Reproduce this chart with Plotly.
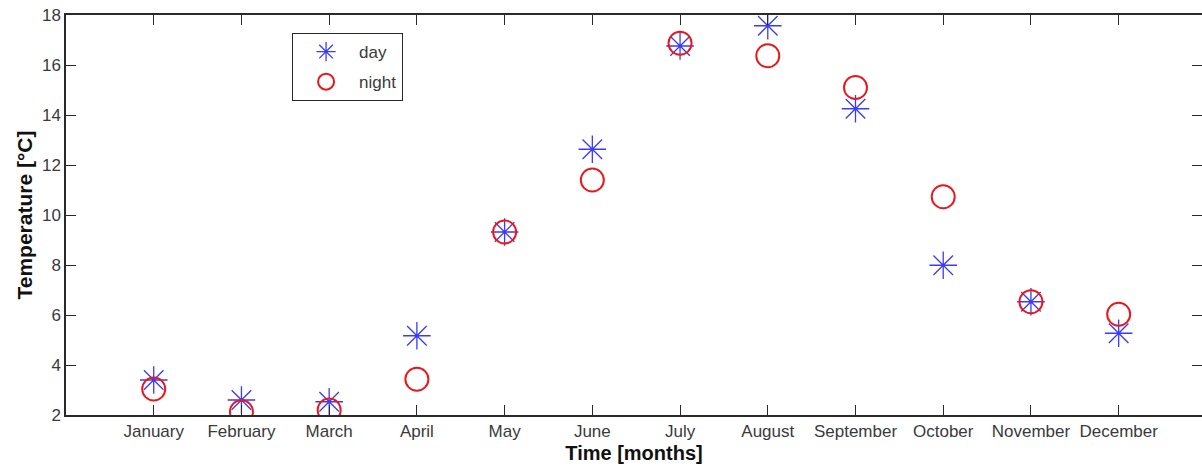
import plotly.graph_objects as go

months = ["January", "February", "March", "April", "May", "June",
          "July", "August", "September", "October", "November", "December"]
month_idx = list(range(1, 13))
day = [3.4, 2.6, 2.53, 5.17, 9.32, 12.63, 16.76, 17.57, 14.25, 7.99, 6.53, 5.27]
night = [3.04, 2.13, 2.2, 3.43, 9.32, 11.4, 16.87, 16.37, 15.1, 10.73, 6.53, 6.03]
yticks = [2, 4, 6, 8, 10, 12, 14, 16, 18]
xrange_ = [0, 12.95]
yrange_ = [2, 18]

FONT = "Liberation Sans, Arial, sans-serif"
AX = "#2a2a2a"
TICKTXT = "#3a3a3a"

fig = go.Figure()
fig.add_trace(go.Scatter(
    x=month_idx, y=day, mode="markers", name="day", legendgroup="d",
    marker=dict(symbol="asterisk-open", size=23, color="#3a3aff",
                line=dict(color="#3a3aff", width=1.3)),
))
fig.add_trace(go.Scatter(
    x=month_idx, y=night, mode="markers", name="night", legendgroup="n",
    marker=dict(symbol="circle-open", size=23, color="#e8191b",
                line=dict(color="#e8191b", width=2)),
))
# helper trace for mirrored inside ticks (top and right)
fig.add_trace(go.Scatter(x=[None], y=[None], xaxis="x2", yaxis="y2",
                         showlegend=False, hoverinfo="skip"))

fig.update_layout(
    width=1202, height=467,
    margin=dict(l=66, r=0, t=15, b=52),
    paper_bgcolor="white", plot_bgcolor="white",
    font=dict(family=FONT, size=17, color=TICKTXT),
    showlegend=True,
    legend=dict(
        x=0.199, y=0.955, xanchor="left", yanchor="top",
        bgcolor="white", bordercolor=AX, borderwidth=1,
        font=dict(family=FONT, size=17, color=TICKTXT),
        itemwidth=56, tracegroupgap=5,
    ),
    xaxis=dict(
        range=xrange_, tickmode="array", tickvals=month_idx, ticktext=months,
        ticks="inside", ticklen=10, tickcolor=AX, tickwidth=1.2,
        showline=True, linecolor=AX, linewidth=1.5, mirror=True,
        showgrid=False, zeroline=False,
        tickfont=dict(family=FONT, size=17, color=TICKTXT),
        title=dict(text="<b>Time [months]</b>", standoff=6,
                   font=dict(family=FONT, size=20, color="#111111")),
    ),
    xaxis2=dict(
        range=xrange_, tickmode="array", tickvals=month_idx, overlaying="x",
        side="top", ticks="inside", ticklen=10, tickcolor=AX, tickwidth=1.2,
        showticklabels=False, showline=False, showgrid=False, zeroline=False,
    ),
    yaxis=dict(
        range=yrange_, tickmode="array", tickvals=yticks,
        ticks="inside", ticklen=10, tickcolor=AX, tickwidth=1.2,
        showline=True, linecolor=AX, linewidth=1.5,
        showgrid=False, zeroline=False,
        tickfont=dict(family=FONT, size=17, color=TICKTXT),
        title=dict(text="<b>Temperature [°C]</b>", standoff=4,
                   font=dict(family=FONT, size=21, color="#111111")),
    ),
    yaxis2=dict(
        range=yrange_, tickmode="array", tickvals=yticks, overlaying="y",
        side="right", ticks="inside", ticklen=10, tickcolor=AX, tickwidth=1.2,
        showticklabels=False, showline=False, showgrid=False, zeroline=False,
    ),
)

fig.write_html("out.html")
